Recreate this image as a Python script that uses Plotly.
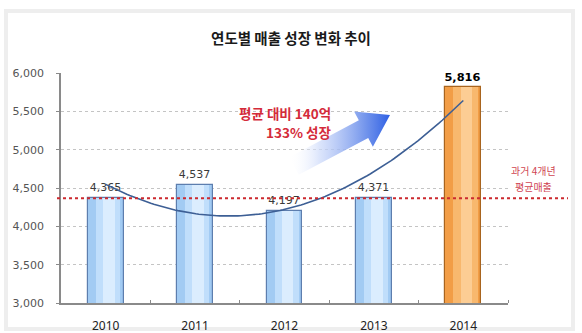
import numpy as np
import plotly.graph_objects as go

# ---- data ----
years = ["2010", "2011", "2012", "2013", "2014"]
sales = [4365, 4537, 4197, 4371, 5816]
y_ticks = [3000, 3500, 4000, 4500, 5000, 5500, 6000]
title_text = "연도별 매출 성장 변화 추이"
avg_label = ["과거 4개년", "평균매출"]
growth_label = ["평균 대비 140억", "133% 성장"]

x_idx = list(range(len(years)))
avg_past = float(np.mean(sales[:4]))
is_last = [i == len(years) - 1 for i in x_idx]

# ---- geometry of plot area (pixels) ----
W, H = 582, 333
L, R, T, B = 61, 508, 73, 303
PW, PH = R - L, B - T
XMIN, XMAX = -0.5, len(years) - 0.5
YMIN, YMAX = y_ticks[0], y_ticks[-1]

def px2data(px, py):
    x = XMIN + (px - L) / PW * (XMAX - XMIN)
    y = YMIN + (B - py) / PH * (YMAX - YMIN)
    return x, y

def px2paper(px, py):
    return (px - L) / PW, (B - py) / PH

fig = go.Figure()

# ---- gradient-like bars (layered) ----
blue = ["#a2cbf3", "#c0defb", "#dbedfe"]
orange = ["#f29d46", "#f8b86e", "#fccd94"]
layers = [(0.40, -0.20), (0.27, -0.11), (0.13, -0.03)]
for li, (w, off) in enumerate(layers):
    cols = [orange[li] if last else blue[li] for last in is_last]
    fig.add_trace(go.Bar(
        x=x_idx, y=sales, width=w, offset=off,
        marker=dict(color=cols, line=dict(width=0)),
        hoverinfo="skip", showlegend=False))

edge = ["#a8641e" if last else "#5d7eae" for last in is_last]
labels = [f"<b>{v:,}</b>" if last else f"{v:,}" for v, last in zip(sales, is_last)]
fig.add_trace(go.Bar(
    x=x_idx, y=sales, width=0.40, offset=-0.20,
    marker=dict(color="rgba(0,0,0,0)", line=dict(color=edge, width=1.2)),
    text=labels, textposition="outside", cliponaxis=False,
    textfont=dict(family="DejaVu Sans",
                  size=[14 if last else 11 for last in is_last],
                  color=["#000000" if last else "#3a3a3a" for last in is_last]),
    showlegend=False))

# ---- polynomial (order 2) trendline ----
coef = np.polyfit(x_idx, sales, 2)
xs = np.linspace(x_idx[0], x_idx[-1], 120)
fig.add_trace(go.Scatter(
    x=xs, y=np.polyval(coef, xs), mode="lines",
    line=dict(color="#3d5f95", width=1.6), hoverinfo="skip", showlegend=False))

# ---- gradient arrow (decoration) ----
tail = np.array([294.0, 166.0])
tip = np.array([390.0, 115.0])
u = (tip - tail) / np.linalg.norm(tip - tail)
n = np.array([-u[1], u[0]])
head_len, shaft_hw, head_hw = 30.0, 10.0, 20.0
base = tip - head_len * u
pts = [tail + n * shaft_hw, base + n * shaft_hw, base + n * head_hw, tip,
       base - n * head_hw, base - n * shaft_hw, tail - n * shaft_hw, tail + n * shaft_hw]
ax_, ay_ = zip(*[px2data(p[0], p[1]) for p in pts])
fig.add_trace(go.Scatter(
    x=list(ax_), y=list(ay_), mode="lines", fill="toself",
    line=dict(width=0, color="rgba(0,0,0,0)"),
    fillgradient=dict(type="horizontal",
                      colorscale=[[0, "rgba(255,255,255,0)"], [0.3, "rgba(205,218,250,0.7)"],
                                  [0.75, "rgba(110,145,235,0.95)"], [1, "#2f60e4"]]),
    hoverinfo="skip", showlegend=False))

# ---- frame & average line ----
fx0, fy0 = px2paper(6, 329)
fx1, fy1 = px2paper(573, 11)
lx0, _ = px2paper(57, 0)
lx1, _ = px2paper(568, 0)
shapes = [
    dict(type="rect", xref="paper", yref="paper", x0=fx0, x1=fx1, y0=fy0, y1=fy1,
         line=dict(color="#eeeeee", width=4), layer="below"),
    dict(type="line", xref="paper", yref="y", x0=lx0, x1=lx1, y0=avg_past, y1=avg_past,
         line=dict(color="#cc2a2f", width=2, dash="dot")),
]

annotations = []
for txt, py in zip(growth_label, [113, 132]):
    axp, ayp = px2paper(333, py)
    annotations.append(dict(xref="paper", yref="paper", x=axp, y=ayp, text=f"<b>{txt}</b>",
                            showarrow=False, xanchor="right", yanchor="middle",
                            font=dict(family="Noto Sans CJK KR", size=13.5, color="#d42b3a")))
for txt, py in zip(avg_label, [170, 186]):
    axp, ayp = px2paper(533, py)
    annotations.append(dict(xref="paper", yref="paper", x=axp, y=ayp, text=txt,
                            showarrow=False, xanchor="center", yanchor="middle",
                            font=dict(family="Noto Sans CJK KR", size=10, color="#d04552")))

fig.update_layout(
    width=W, height=H,
    margin=dict(l=L, r=W - R, t=T, b=H - B, pad=0, autoexpand=False),
    paper_bgcolor="white", plot_bgcolor="white",
    barmode="overlay", bargap=0,
    title=dict(text=f"<b>{title_text}</b>", x=291 / W, xanchor="center",
               y=1 - 39 / H, yanchor="middle",
               font=dict(family="Noto Sans CJK KR", size=14.5, color="#1a1a1a")),
    shapes=shapes, annotations=annotations,
    xaxis=dict(range=[XMIN, XMAX], tickmode="array", tickvals=x_idx, ticktext=years,
               ticks="", showgrid=False, zeroline=False, automargin=False,
               showline=True, linecolor="#8a8a8a", linewidth=1.5,
               tickfont=dict(family="Noto Sans", size=12, color="#222222"),
               ticklabelstandoff=11,
               minor=dict(tickmode="array", tickvals=[i + 0.5 for i in x_idx],
                          ticks="inside", ticklen=3, tickcolor="#8a8a8a", showgrid=False)),
    yaxis=dict(range=[YMIN, YMAX], tickmode="array", tickvals=y_ticks,
               ticktext=[f"{v:,}" for v in y_ticks], automargin=False,
               showgrid=True, gridcolor="#c4c4c4", griddash="dot", gridwidth=1,
               zeroline=False, showline=True, linecolor="#8a8a8a", linewidth=1.5,
               ticks="outside", ticklen=3, tickcolor="#8a8a8a",
               ticklabelstandoff=10,
               tickfont=dict(family="DejaVu Sans", size=11, color="#555555")),
)

fig.write_html("out.html")
